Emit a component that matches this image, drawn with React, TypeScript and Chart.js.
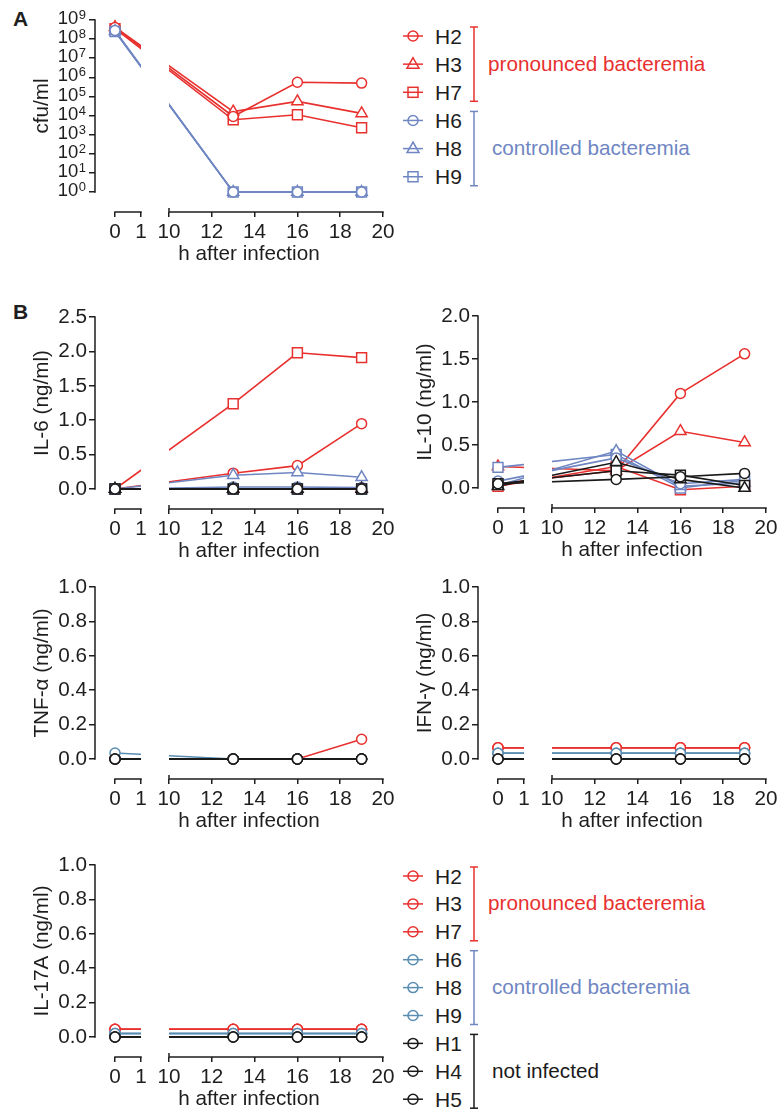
import React, { useEffect, useRef } from 'react';
import { Chart, registerables, LinearScale } from 'chart.js';

// ---------------- data ----------------
const HOURS = [0, 13, 16, 19];
const X_TICKS = [0, 1, 10, 12, 14, 16, 18, 20];

const CFU_TICKS = [1, 1e1, 1e2, 1e3, 1e4, 1e5, 1e6, 1e7, 1e8, 1e9];
const IL6_TICKS = [0, 0.5, 1.0, 1.5, 2.0, 2.5];
const IL10_TICKS = [0, 0.5, 1.0, 1.5, 2.0];
const UNIT_TICKS = [0, 0.2, 0.4, 0.6, 0.8, 1.0];

const PRONOUNCED = ['H2', 'H3', 'H7'];
const CONTROLLED = ['H6', 'H8', 'H9'];
const UNINFECTED = ['H1', 'H4', 'H5'];

// A: cfu/ml
const CFU_H2 = [4.0e8, 9.0e3, 5.5e5, 5.0e5];
const CFU_H3 = [4.2e8, 1.6e4, 5.5e4, 1.3e4];
const CFU_H7 = [3.5e8, 6.0e3, 1.1e4, 2.3e3];
const CFU_H6 = [2.8e8, 1, 1, 1];
const CFU_H8 = [2.6e8, 1, 1, 1];
const CFU_H9 = [2.5e8, 1, 1, 1];

// IL-6 (ng/ml)
const IL6_H2 = [0, 0.23, 0.34, 0.95];
const IL6_H3 = [0, 0, 0, 0.01];
const IL6_H7 = [0, 1.24, 1.98, 1.91];
const IL6_H6 = [0, 0.03, 0.03, 0.02];
const IL6_H8 = [0, 0.2, 0.24, 0.17];
const IL6_H9 = [0, 0, 0, 0];
const IL6_H1 = [0, 0, 0, 0];
const IL6_H4 = [0, 0, 0, 0];
const IL6_H5 = [0, 0, 0, 0];

// IL-10 (ng/ml)
const IL10_H2 = [0.05, 0.2, 1.1, 1.56];
const IL10_H3 = [0.25, 0.2, 0.66, 0.53];
const IL10_H7 = [0.02, 0.25, -0.02, 0.02];
const IL10_H6 = [0.08, 0.35, 0.05, 0.1];
const IL10_H8 = [0.03, 0.43, 0.02, 0.06];
const IL10_H9 = [0.24, 0.39, 0.0, 0.09];
const IL10_H1 = [0.05, 0.1, 0.13, 0.17];
const IL10_H4 = [0.02, 0.3, 0.1, 0.0];
const IL10_H5 = [0.05, 0.2, 0.15, 0.03];

// TNF-alpha (ng/ml)
const TNF_H2 = [0, 0, 0, 0.115];
const TNF_H3 = [0, 0, 0, 0];
const TNF_H7 = [0, 0, 0, 0];
const TNF_H6 = [0.035, 0, 0, 0];
const TNF_H8 = [0, 0, 0, 0];
const TNF_H9 = [0, 0, 0, 0];
const TNF_H1 = [0, 0, 0, 0];
const TNF_H4 = [0, 0, 0, 0];
const TNF_H5 = [0, 0, 0, 0];

// IFN-gamma (ng/ml)
const IFN_H2 = [0.065, 0.065, 0.065, 0.065];
const IFN_H3 = [0.065, 0.065, 0.065, 0.065];
const IFN_H7 = [0.065, 0.065, 0.065, 0.065];
const IFN_H6 = [0.033, 0.033, 0.033, 0.033];
const IFN_H8 = [0.033, 0.033, 0.033, 0.033];
const IFN_H9 = [0.033, 0.033, 0.033, 0.033];
const IFN_H1 = [0, 0, 0, 0];
const IFN_H4 = [0, 0, 0, 0];
const IFN_H5 = [0, 0, 0, 0];

// IL-17A (ng/ml)
const IL17_H2 = [0.045, 0.045, 0.045, 0.045];
const IL17_H3 = [0.045, 0.045, 0.045, 0.045];
const IL17_H7 = [0.045, 0.045, 0.045, 0.045];
const IL17_H6 = [0.02, 0.02, 0.02, 0.02];
const IL17_H8 = [0.02, 0.02, 0.02, 0.02];
const IL17_H9 = [0.02, 0.02, 0.02, 0.02];
const IL17_H1 = [0, 0, 0, 0];
const IL17_H4 = [0, 0, 0, 0];
const IL17_H5 = [0, 0, 0, 0];

// ---------------- style ----------------
const FONT = '"Liberation Sans", Arial, Helvetica, sans-serif';
const FS = 20.7;
const INK = '#1e1e1e';
const RED = '#E8312F';
const BLUE = '#6F86C3';
const TEAL = '#5A8DB2';
const BLACK = '#1a1a1a';

type Shape = 'circle' | 'triangle' | 'rect';
const RADIUS: Record<Shape, number> = { circle: 5, triangle: 6.5, rect: 7 };
const SHAPES3: Shape[] = ['circle', 'triangle', 'rect'];
const ROUND3: Shape[] = ['circle', 'circle', 'circle'];

interface Series { name: string; color: string; shape: Shape; values: number[]; layer: number }

function cohort(names: string[], color: string, shapes: Shape[], values: number[][], layer: number): Series[] {
  return names.map((n, i) => ({ name: n, color, shape: shapes[i], values: values[i], layer }));
}

// ---------------- broken time axis (0-1 | 10-20) ----------------
const AX_LEAD = 20, AX_SEG1 = 26, AX_GAP = 28, AX_PER_H = 21.4;
const AX_TOTAL = AX_LEAD + AX_SEG1 + AX_GAP + 10 * AX_PER_H;
function brokenPos(h: number) {
  if (h <= 1) return AX_LEAD + AX_SEG1 * h;
  if (h < 10) return AX_LEAD + AX_SEG1 + ((h - 1) / 9) * AX_GAP;
  return AX_LEAD + AX_SEG1 + AX_GAP + AX_PER_H * (h - 10);
}
function brokenInv(p: number) {
  if (p <= AX_LEAD + AX_SEG1) return (p - AX_LEAD) / AX_SEG1;
  if (p < AX_LEAD + AX_SEG1 + AX_GAP) return 1 + ((p - AX_LEAD - AX_SEG1) / AX_GAP) * 9;
  return 10 + (p - AX_LEAD - AX_SEG1 - AX_GAP) / AX_PER_H;
}

class BrokenTimeScale extends LinearScale {
  static id = 'brokenTime';
  static defaults = { ticks: { callback: (v: number) => String(v) } };
  getPixelForValue(value: number) {
    if (value === null || value === undefined || Number.isNaN(value)) return NaN;
    return (this as any).left + (this as any).width * (brokenPos(value) / AX_TOTAL);
  }
  getValueForPixel(pixel: number) {
    return brokenInv(((pixel - (this as any).left) / (this as any).width) * AX_TOTAL);
  }
}

Chart.register(...registerables, BrokenTimeScale as any);

// ---------------- panels ----------------
interface PanelSpec {
  left: number; top: number; log: boolean; yMax: number; yTicks: number[]; yTitle: string; series: Series[];
}

const CANVAS_W = 400;
const PAD_TOP = 20;
const AREA_H = 192;
const XAXIS_H = 70;
const CANVAS_H = PAD_TOP + AREA_H + XAXIS_H;
const ZERO_OFFSET = 20;

const PANELS: PanelSpec[] = [
  {
    left: 0, top: 0, log: true, yMax: 1e9, yTicks: CFU_TICKS, yTitle: 'cfu/ml',
    series: [
      ...cohort(PRONOUNCED, RED, SHAPES3, [CFU_H2, CFU_H3, CFU_H7], 2),
      ...cohort(CONTROLLED, BLUE, SHAPES3, [CFU_H6, CFU_H8, CFU_H9], 1),
    ],
  },
  {
    left: 0, top: 297, log: false, yMax: 2.5, yTicks: IL6_TICKS, yTitle: 'IL-6 (ng/ml)',
    series: [
      ...cohort(PRONOUNCED, RED, SHAPES3, [IL6_H2, IL6_H3, IL6_H7], 2),
      ...cohort(CONTROLLED, BLUE, SHAPES3, [IL6_H6, IL6_H8, IL6_H9], 1),
      ...cohort(UNINFECTED, BLACK, SHAPES3, [IL6_H1, IL6_H4, IL6_H5], 0),
    ],
  },
  {
    left: 383, top: 296, log: false, yMax: 2.0, yTicks: IL10_TICKS, yTitle: 'IL-10 (ng/ml)',
    series: [
      ...cohort(PRONOUNCED, RED, SHAPES3, [IL10_H2, IL10_H3, IL10_H7], 2),
      ...cohort(CONTROLLED, BLUE, SHAPES3, [IL10_H6, IL10_H8, IL10_H9], 1),
      ...cohort(UNINFECTED, BLACK, SHAPES3, [IL10_H1, IL10_H4, IL10_H5], 0),
    ],
  },
  {
    left: 0, top: 567, log: false, yMax: 1.0, yTicks: UNIT_TICKS, yTitle: 'TNF-\u03B1 (ng/ml)',
    series: [
      ...cohort(PRONOUNCED, RED, ROUND3, [TNF_H2, TNF_H3, TNF_H7], 2),
      ...cohort(CONTROLLED, TEAL, ROUND3, [TNF_H6, TNF_H8, TNF_H9], 1),
      ...cohort(UNINFECTED, BLACK, ROUND3, [TNF_H1, TNF_H4, TNF_H5], 0),
    ],
  },
  {
    left: 383, top: 567, log: false, yMax: 1.0, yTicks: UNIT_TICKS, yTitle: 'IFN-\u03B3 (ng/ml)',
    series: [
      ...cohort(PRONOUNCED, RED, ROUND3, [IFN_H2, IFN_H3, IFN_H7], 2),
      ...cohort(CONTROLLED, TEAL, ROUND3, [IFN_H6, IFN_H8, IFN_H9], 1),
      ...cohort(UNINFECTED, BLACK, ROUND3, [IFN_H1, IFN_H4, IFN_H5], 0),
    ],
  },
  {
    left: 0, top: 845, log: false, yMax: 1.0, yTicks: UNIT_TICKS, yTitle: 'IL-17A (ng/ml)',
    series: [
      ...cohort(PRONOUNCED, RED, ROUND3, [IL17_H2, IL17_H3, IL17_H7], 2),
      ...cohort(CONTROLLED, TEAL, ROUND3, [IL17_H6, IL17_H8, IL17_H9], 1),
      ...cohort(UNINFECTED, BLACK, ROUND3, [IL17_H1, IL17_H4, IL17_H5], 0),
    ],
  },
];

function decorPlugin(spec: PanelSpec) {
  const yZero = spec.log ? 1 : 0;
  return {
    id: 'panelDecor',
    beforeDatasetsDraw(chart: any) {
      const { ctx, chartArea: a, scales } = chart;
      const x = scales.x, y = scales.y;
      const yTopPx = y.getPixelForValue(spec.yMax);
      const yZeroPx = y.getPixelForValue(yZero);
      ctx.save();
      ctx.strokeStyle = INK;
      ctx.lineWidth = 1.5;
      ctx.beginPath();
      ctx.moveTo(a.left, yTopPx - 0.75);
      ctx.lineTo(a.left, yZeroPx + 0.75);
      const yb = a.bottom;
      ctx.moveTo(x.getPixelForValue(0) - 0.75, yb);
      ctx.lineTo(x.getPixelForValue(1) + 0.75, yb);
      ctx.moveTo(x.getPixelForValue(10) - 0.75, yb);
      ctx.lineTo(x.getPixelForValue(20) + 0.75, yb);
      ctx.moveTo(x.getPixelForValue(10), yb - 4);
      ctx.lineTo(x.getPixelForValue(10), yb);
      ctx.stroke();

      ctx.fillStyle = INK;
      ctx.font = `${FS}px ${FONT}`;
      ctx.textAlign = 'center';
      ctx.textBaseline = 'middle';
      ctx.fillText('h after infection', (x.getPixelForValue(0) + x.getPixelForValue(20)) / 2, yb + 42);
      ctx.save();
      ctx.translate(a.left - 53, (yTopPx + yZeroPx) / 2);
      ctx.rotate(-Math.PI / 2);
      ctx.fillText(spec.yTitle, 0, 0);
      ctx.restore();

      if (spec.log) {
        spec.yTicks.forEach((v) => {
          const py = y.getPixelForValue(v);
          const exp = String(Math.round(Math.log10(v)));
          ctx.font = `13px ${FONT}`;
          ctx.textAlign = 'right';
          ctx.textBaseline = 'top';
          const right = a.left - 9;
          ctx.fillText(exp, right, py - 11);
          const ew = ctx.measureText(exp).width;
          ctx.font = `18.5px ${FONT}`;
          ctx.textBaseline = 'middle';
          ctx.fillText('10', right - ew - 0.5, py - 1);
        });
      }
      ctx.restore();

      // hide the lines inside the axis break
      const g0 = x.getPixelForValue(1);
      const g1 = x.getPixelForValue(10);
      ctx.save();
      ctx.beginPath();
      ctx.rect(a.left - 40, a.top - 40, g0 - (a.left - 40), a.height + 80);
      ctx.rect(g1, a.top - 40, a.right + 40 - g1, a.height + 80);
      ctx.clip();
    },
    afterDatasetsDraw(chart: any) {
      chart.ctx.restore();
    },
  };
}

function makeConfig(spec: PanelSpec): any {
  const span = AREA_H - ZERO_OFFSET;
  const yMin = spec.log
    ? Math.pow(10, -Math.log10(spec.yMax) * ZERO_OFFSET / span)
    : -spec.yMax * ZERO_OFFSET / span;
  return {
    type: 'line',
    data: {
      datasets: spec.series.map((s) => ({
        label: s.name,
        data: HOURS.map((h, i) => ({ x: h, y: s.values[i] })),
        borderColor: s.color,
        backgroundColor: '#ffffff',
        pointBackgroundColor: '#ffffff',
        pointBorderColor: s.color,
        pointStyle: s.shape,
        pointRadius: RADIUS[s.shape],
        pointBorderWidth: 1.5,
        borderWidth: 1.6,
        tension: 0,
        clip: false,
        order: s.layer,
      })),
    },
    options: {
      animation: false,
      responsive: false,
      maintainAspectRatio: false,
      devicePixelRatio: 1,
      events: [],
      layout: { padding: { left: 0, top: PAD_TOP, right: CANVAS_W - 95 - 288, bottom: 0 } },
      plugins: { legend: { display: false }, tooltip: { enabled: false }, title: { display: false } },
      scales: {
        x: {
          type: 'brokenTime',
          min: 0,
          max: 20,
          bounds: 'data',
          afterFit: (s: any) => { s.height = XAXIS_H; },
          afterBuildTicks: (s: any) => { s.ticks = X_TICKS.map((v) => ({ value: v })); },
          grid: { drawOnChartArea: false, drawTicks: true, tickLength: 5, color: INK, lineWidth: 1.5 },
          border: { display: false },
          ticks: {
            autoSkip: false, maxRotation: 0, padding: 3, color: INK,
            font: { family: FONT, size: FS },
            callback: (v: number) => String(v),
          },
        },
        y: {
          type: spec.log ? 'logarithmic' : 'linear',
          min: yMin,
          max: spec.yMax,
          bounds: 'data',
          afterFit: (s: any) => { s.width = 95; },
          afterBuildTicks: (s: any) => { s.ticks = spec.yTicks.map((v) => ({ value: v })); },
          grid: { drawOnChartArea: false, drawTicks: true, tickLength: 6, color: INK, lineWidth: 1.5 },
          border: { display: false },
          ticks: {
            autoSkip: false, padding: 2, color: INK,
            font: { family: FONT, size: FS },
            callback: (v: number) => (spec.log ? '' : Number(v).toFixed(1)),
          },
        },
      },
    },
    plugins: [decorPlugin(spec)],
  };
}

function Panel({ spec }: { spec: PanelSpec }) {
  const ref = useRef<HTMLCanvasElement>(null);
  useEffect(() => {
    const chart = new Chart(ref.current as HTMLCanvasElement, makeConfig(spec));
    return () => chart.destroy();
  }, [spec]);
  return (
    <canvas
      ref={ref}
      width={CANVAS_W}
      height={CANVAS_H}
      style={{ position: 'absolute', left: spec.left, top: spec.top, width: CANVAS_W, height: CANVAS_H }}
    />
  );
}

// ---------------- legends ----------------
interface LegendItem { name: string; color: string; shape: Shape }
interface LegendGroup { label: string; color: string; first: number; last: number; textX: number }

const TOP_LEGEND: LegendItem[] = [
  ...PRONOUNCED.map((n, i) => ({ name: n, color: RED, shape: SHAPES3[i] })),
  ...CONTROLLED.map((n, i) => ({ name: n, color: BLUE, shape: SHAPES3[i] })),
];
const TOP_GROUPS: LegendGroup[] = [
  { label: 'pronounced bacteremia', color: RED, first: 0, last: 2, textX: 488 },
  { label: 'controlled bacteremia', color: BLUE, first: 3, last: 5, textX: 492 },
];
const BOTTOM_LEGEND: LegendItem[] = [
  ...PRONOUNCED.map((n) => ({ name: n, color: RED, shape: 'circle' as Shape })),
  ...CONTROLLED.map((n) => ({ name: n, color: TEAL, shape: 'circle' as Shape })),
  ...UNINFECTED.map((n) => ({ name: n, color: BLACK, shape: 'circle' as Shape })),
];
const BOTTOM_GROUPS: LegendGroup[] = [
  { label: 'pronounced bacteremia', color: RED, first: 0, last: 2, textX: 488 },
  { label: 'controlled bacteremia', color: BLUE, first: 3, last: 5, textX: 492 },
  { label: 'not infected', color: BLACK, first: 6, last: 8, textX: 492 },
];

function Marker({ x, y, color, shape }: { x: number; y: number; color: string; shape: Shape }) {
  return (
    <g stroke={color} strokeWidth={1.5} fill="none">
      <line x1={x - 10} y1={y} x2={x + 10} y2={y} />
      {shape === 'circle' && <circle cx={x} cy={y} r={5} />}
      {shape === 'triangle' && <polygon points={`${x},${y - 6.5} ${x - 6},${y + 4} ${x + 6},${y + 4}`} />}
      {shape === 'rect' && <rect x={x - 5} y={y - 5} width={10} height={10} />}
    </g>
  );
}

function Legend({ items, groups, y0, step }: { items: LegendItem[]; groups: LegendGroup[]; y0: number; step: number }) {
  const rowY = (i: number) => y0 + i * step;
  return (
    <g>
      {items.map((it, i) => (
        <g key={it.name}>
          <Marker x={413} y={rowY(i)} color={it.color} shape={it.shape} />
          <text x={435} y={rowY(i)} dominantBaseline="central" fontFamily={FONT} fontSize={21} fill={INK}>
            {it.name}
          </text>
        </g>
      ))}
      {groups.map((g) => {
        const y1 = rowY(g.first) - 9;
        const y2 = rowY(g.last) + 9;
        return (
          <g key={g.label}>
            <g stroke={g.color} strokeWidth={1.5}>
              <line x1={474} y1={y1} x2={474} y2={y2} />
              <line x1={470} y1={y1} x2={478} y2={y1} />
              <line x1={470} y1={y2} x2={478} y2={y2} />
            </g>
            <text x={g.textX} y={rowY((g.first + g.last) / 2) - 1} dominantBaseline="central" fontFamily={FONT} fontSize={FS} fill={g.color}>
              {g.label}
            </text>
          </g>
        );
      })}
    </g>
  );
}

export default function App() {
  return (
    <div style={{ position: 'absolute', left: 0, top: 0, width: 780, height: 1113, background: '#ffffff', overflow: 'hidden' }}>
      <svg width={780} height={1113} style={{ position: 'absolute', left: 0, top: 0 }}>
        <text x={13} y={26} fontFamily={FONT} fontSize={21} fontWeight="bold" fill={INK}>A</text>
        <text x={13} y={319} fontFamily={FONT} fontSize={21} fontWeight="bold" fill={INK}>B</text>
        <Legend items={TOP_LEGEND} groups={TOP_GROUPS} y0={36} step={28.15} />
        <Legend items={BOTTOM_LEGEND} groups={BOTTOM_GROUPS} y0={876} step={27.9} />
      </svg>
      {PANELS.map((p, i) => (
        <Panel key={i} spec={p} />
      ))}
    </div>
  );
}
